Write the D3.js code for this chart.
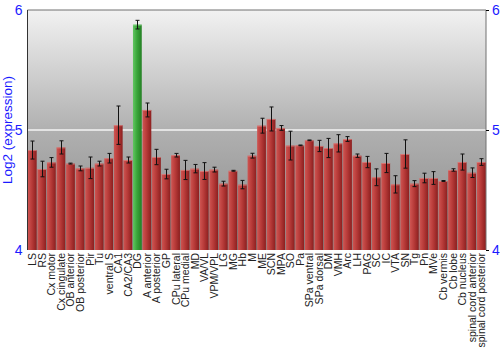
<!DOCTYPE html>
<html>
<head>
<meta charset="utf-8">
<script src="https://cdn.jsdelivr.net/npm/d3@7"></script>
<style>
  body { margin: 0; background: #fff; }
  svg { display: block; font-family: "Liberation Sans", Arial, sans-serif; }
</style>
</head>
<body>
<div id="chart"></div>
<script>
// regions (x categories)
var regions = ["LS","RS","Cx motor","Cx cingulate","OB anterior","OB posterior","Pir","Tu",
  "ventral S","CA1","CA2/CA3","DG","A anterior","A posterior","GP","CPu lateral","CPu medial",
  "MD","VA/VL","VPM/VPL","LG","MG","Hb","M","ME","SCN","MPA","SO","Pa","SPa ventral",
  "SPa dorsal","DM","VMH","Arc","LH","PAG","SC","IC","VTA","SN","Tg","Pn","MVe",
  "Cb vermis","Cb lobe","Cb nucleus","spinal cord anterior","spinal cord posterior"]

// log2 expression
var expr = [4.833,4.675,4.73,4.855,4.72,4.68,4.685,4.72,
  4.765,5.04,4.75,5.878,5.167,4.775,4.633,4.79,4.667,
  4.678,4.658,4.67,4.553,4.66,4.545,4.786,5.036,5.092,5.017,4.87,4.872,4.914,
  4.867,4.85,4.889,4.925,4.786,4.733,4.606,4.725,4.547,4.8,4.553,4.6,4.6,
  4.575,4.667,4.733,4.644,4.733]

// error (+/-)
var err = [0.075,0.065,0.04,0.055,0.004,0.02,0.09,0.02,
  0.04,0.16,0.025,0.036,0.058,0.064,0.04,0.015,0.08,
  0.035,0.07,0.02,0.02,0.004,0.035,0.02,0.062,0.1,0.02,0.12,0.003,0.003,
  0.047,0.08,0.072,0.02,0.014,0.047,0.07,0.08,0.072,0.118,0.025,0.04,0.053,
  0.004,0.01,0.067,0.04,0.028]

var highlight = "DG"
var yTicks = [4,5,6]

var width = 500, height = 350
var margin = {top:10, left:27.5, right:14, bottom:100}

var svg = d3.select("#chart").append("svg")
  .attr("width", width)
  .attr("height", height)

var defs = svg.append("defs")

var bg = defs.append("linearGradient").attr("id","bg")
  .attr("x1",0).attr("y1",0).attr("x2",0).attr("y2",1)
bg.append("stop").attr("offset","0%").attr("stop-color","#f2f2f2")
bg.append("stop").attr("offset","50%").attr("stop-color","#b0b0b0")
bg.append("stop").attr("offset","100%").attr("stop-color","#888888")

var red = defs.append("linearGradient").attr("id","red")
  .attr("x1",0).attr("y1",0).attr("x2",1).attr("y2",0)
red.append("stop").attr("offset","0%").attr("stop-color","#cf5552")
red.append("stop").attr("offset","45%").attr("stop-color","#b83b39")
red.append("stop").attr("offset","100%").attr("stop-color","#8c1f1f")

var green = defs.append("linearGradient").attr("id","green")
  .attr("x1",0).attr("y1",0).attr("x2",1).attr("y2",0)
green.append("stop").attr("offset","0%").attr("stop-color","#62c662")
green.append("stop").attr("offset","45%").attr("stop-color","#3aa63a")
green.append("stop").attr("offset","100%").attr("stop-color","#237f23")

var x0 = margin.left, x1 = 486, y0 = margin.top, y1 = 250

var x = d3.scaleBand().domain(regions).range([x0, x1]).paddingInner(0.08).paddingOuter(0.04)
var y = d3.scaleLinear().domain([4,6]).range([y1, y0])

// background
svg.append("rect")
  .attr("x", x0).attr("y", y0)
  .attr("width", x1-x0).attr("height", y1-y0)
  .attr("fill","url(#bg)")

// grid line at 5
svg.append("line")
  .attr("x1", x0).attr("x2", x1)
  .attr("y1", y(5)).attr("y2", y(5))
  .attr("stroke","#f4f4f4").attr("stroke-width",1.5)

// frame
svg.append("line").attr("x1",x0).attr("x2",x1).attr("y1",y0).attr("y2",y0)
  .attr("stroke","#707070")
svg.append("line").attr("x1",x1).attr("x2",x1).attr("y1",y0).attr("y2",y1)
  .attr("stroke","#707070")

var data = regions.map(function(r,i){ return {name:r, v:expr[i], e:err[i]} })

var bars = svg.append("g").selectAll("rect")
  .data(data).enter().append("rect")
  .attr("x", function(d){ return x(d.name) })
  .attr("y", function(d){ return y(d.v) })
  .attr("width", x.bandwidth())
  .attr("height", function(d){ return y1 - y(d.v) })
  .attr("fill", function(d){ return d.name==highlight ? "url(#green)" : "url(#red)" })

// small top highlight
svg.append("g").selectAll("line")
  .data(data).enter().append("line")
  .attr("x1", function(d){ return x(d.name) })
  .attr("x2", function(d){ return x(d.name)+x.bandwidth() })
  .attr("y1", function(d){ return y(d.v)+0.5 })
  .attr("y2", function(d){ return y(d.v)+0.5 })
  .attr("stroke", function(d){ return d.name==highlight ? "#8fdc8f" : "#de8a88" })
  .attr("stroke-opacity",0.7)

// error bars
var eb = svg.append("g").attr("stroke","#111").attr("stroke-width",1)
data.forEach(function(d){
  var cx = Math.round(x(d.name)+x.bandwidth()/2)+0.5
  var top = y(d.v+d.e), bot = y(d.v-d.e)
  eb.append("line").attr("x1",cx).attr("x2",cx).attr("y1",top).attr("y2",bot)
  eb.append("line").attr("x1",cx-2).attr("x2",cx+2).attr("y1",top).attr("y2",top)
  eb.append("line").attr("x1",cx-2).attr("x2",cx+2).attr("y1",bot).attr("y2",bot)
})

// left axis
svg.append("line").attr("x1",x0).attr("x2",x0).attr("y1",y0).attr("y2",y1)
  .attr("stroke","#333")

var yAxisL = d3.axisLeft(y).tickValues(yTicks).tickFormat(d3.format("d")).tickSize(0).tickPadding(5)
var gl = svg.append("g").attr("transform","translate("+x0+",0)").call(yAxisL)
gl.select(".domain").remove()
gl.selectAll("text").attr("fill","#1a1aff").style("font-size","14px")

var yAxisR = d3.axisRight(y).tickValues(yTicks).tickFormat(d3.format("d")).tickSize(3).tickPadding(3)
var gr = svg.append("g").attr("transform","translate("+x1+",0)").call(yAxisR)
gr.select(".domain").remove()
gr.selectAll("line").attr("stroke","#000")
gr.selectAll("text").attr("fill","#1a1aff").style("font-size","14px")

// y title
svg.append("text")
  .attr("transform","translate(12,"+((y0+y1)/2)+") rotate(-90)")
  .attr("text-anchor","middle")
  .attr("fill","#1a1aff")
  .style("font-size","13.5px")
  .text("Log2 (expression)")

// x labels
svg.append("g").selectAll("text")
  .data(regions).enter().append("text")
  .attr("transform", function(d){
    return "translate("+(x(d)+x.bandwidth()/2+4)+","+(y1+3)+") rotate(-90)"
  })
  .attr("text-anchor","end")
  .attr("fill","#222")
  .style("font-size","10.5px")
  .text(function(d){ return d })
</script>
</body>
</html>
